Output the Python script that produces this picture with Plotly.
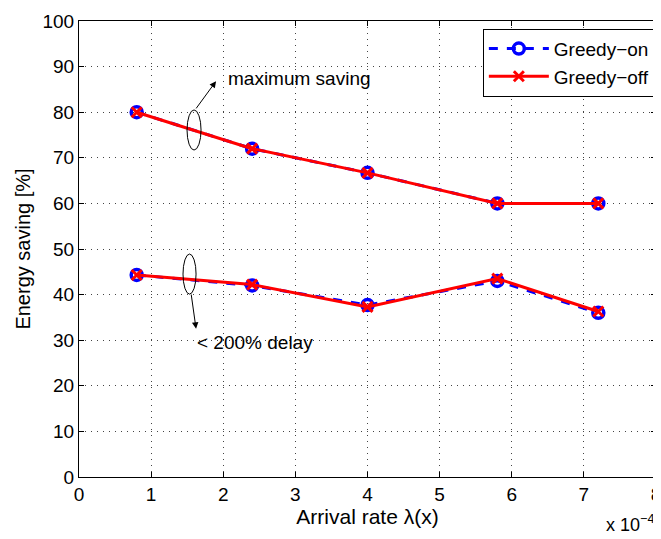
import plotly.graph_objects as go

x_rate = [0.8, 2.4, 4.0, 5.8, 7.2]
on_max = [80.0, 72.0, 66.7, 60.0, 60.0]
on_delay = [44.3, 42.0, 37.7, 43.0, 36.0]
off_max = [80.0, 72.0, 66.7, 60.0, 60.0]
off_delay = [44.3, 42.2, 37.3, 43.5, 36.3]
x_ticks = [0, 1, 2, 3, 4, 5, 6, 7, 8]
y_ticks = [0, 10, 20, 30, 40, 50, 60, 70, 80, 90, 100]

FONT = "Liberation Sans, Arial, sans-serif"

def joined(a, b):
    return a + [None] + b

fig = go.Figure()
fig.add_trace(go.Scatter(
    x=joined(x_rate, x_rate), y=joined(on_max, on_delay), name="Greedy\u2212on",
    mode="lines+markers", connectgaps=False,
    line=dict(color="#0000ff", width=3, dash="dash"),
    marker=dict(symbol="circle-open", size=11, color="#0000ff", line=dict(width=3.5, color="#0000ff")),
))
fig.add_trace(go.Scatter(
    x=joined(x_rate, x_rate), y=joined(off_max, off_delay), name="Greedy\u2212off",
    mode="lines+markers", connectgaps=False,
    line=dict(color="#ff0000", width=3),
    marker=dict(symbol="x-thin-open", size=10, color="#ff0000", line=dict(width=3, color="#ff0000")),
))

# ellipses
fig.add_shape(type="circle", xref="x", yref="y", x0=1.498, x1=1.692, y0=71.7, y1=80.5,
              line=dict(color="black", width=1))
fig.add_shape(type="circle", xref="x", yref="y", x0=1.442, x1=1.623, y0=40.1, y1=48.9,
              line=dict(color="black", width=1))

# arrows
fig.add_annotation(x=1.90, y=86.8, ax=1.609, ay=80.5, xref="x", yref="y", axref="x", ayref="y",
                   text="", showarrow=True, arrowhead=2, arrowsize=1.3, arrowwidth=1, arrowcolor="black")
fig.add_annotation(x=1.623, y=32.5, ax=1.553, ay=40.35, xref="x", yref="y", axref="x", ayref="y",
                   text="", showarrow=True, arrowhead=2, arrowsize=1.3, arrowwidth=1, arrowcolor="black")
fig.add_annotation(x=2.04, y=87.4, xref="x", yref="y", text="maximum saving", showarrow=False,
                   xanchor="left", yanchor="middle", font=dict(family=FONT, size=19, color="black"))
fig.add_annotation(x=1.61, y=29.6, xref="x", yref="y", text="&lt; 200% delay", showarrow=False,
                   xanchor="left", yanchor="middle", font=dict(family=FONT, size=19, color="black"))
fig.add_annotation(x=1.0, y=-0.103, xref="paper", yref="paper", text="x 10<sup>\u22124</sup>",
                   showarrow=False, xanchor="right", yanchor="middle",
                   font=dict(family=FONT, size=18, color="black"))

axis_common = dict(showline=True, linecolor="black", linewidth=1, mirror="ticks", ticks="inside",
                   ticklen=5, tickcolor="black", showgrid=True, gridcolor="#444444", griddash="1px,5px",
                   gridwidth=1, zeroline=False, automargin=False, ticklabeloverflow="allow",
                   tickfont=dict(family=FONT, size=19, color="black"))

fig.update_xaxes(range=[0, 8], tickvals=x_ticks, title=dict(text="Arrival rate \u03bb(x)", standoff=4,
                 font=dict(family=FONT, size=21, color="black")), **axis_common)
fig.update_yaxes(range=[0, 100], tickvals=y_ticks, title=dict(text="Energy saving [%]", standoff=6,
                 font=dict(family=FONT, size=20, color="black")), **axis_common)

fig.update_layout(
    width=655, height=531,
    margin=dict(l=71, r=7, t=13, b=62),
    plot_bgcolor="white", paper_bgcolor="white",
    legend=dict(x=0.998, y=0.983, xanchor="right", yanchor="top", bgcolor="white",
                bordercolor="black", borderwidth=1, font=dict(family=FONT, size=19, color="black"),
                tracegroupgap=0, itemwidth=60),
    showlegend=True,
)

fig.write_html("out.html")
